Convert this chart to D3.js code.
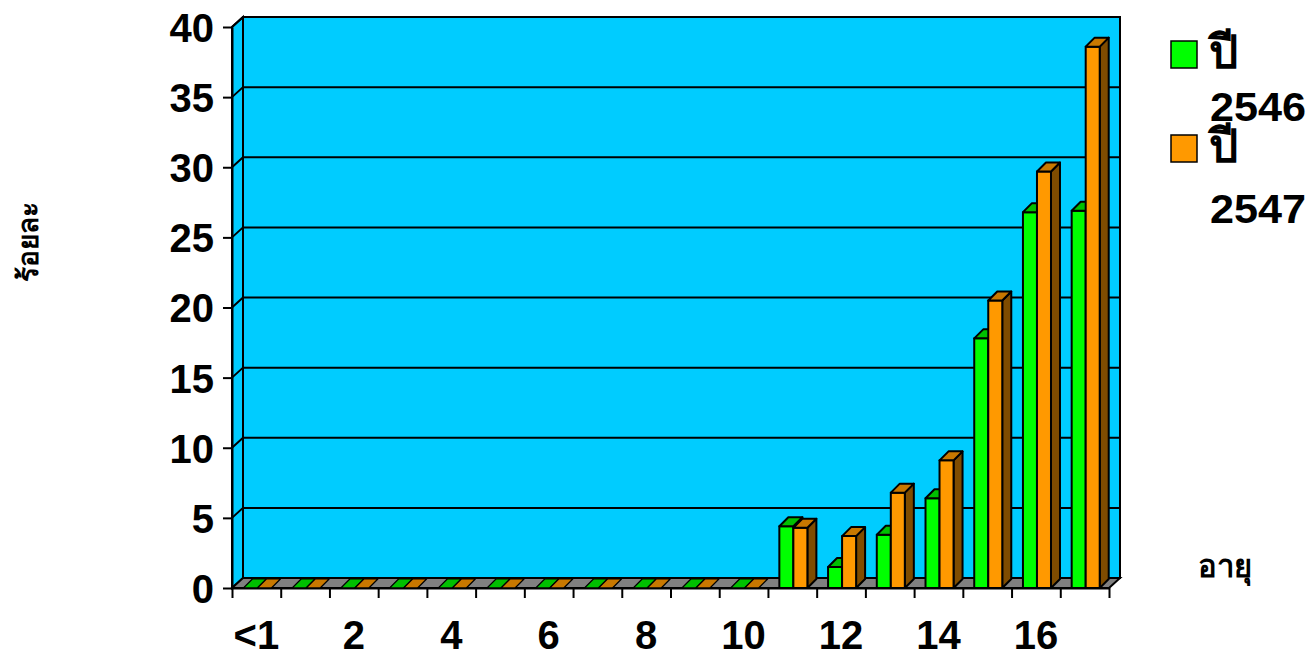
<!DOCTYPE html>
<html>
<head>
<meta charset="utf-8">
<script src="https://cdn.jsdelivr.net/npm/d3@7/dist/d3.min.js"></script>
<style>
  html, body { margin: 0; padding: 0; background: #ffffff; }
  svg { display: block; }
  text { font-family: "Liberation Sans", Arial, "Noto Sans", sans-serif; font-weight: bold; fill: #000; }
</style>
</head>
<body>
<svg id="chart" width="1312" height="655"></svg>
<script>
// Age groups (years) and percentages for each year
const categories = ["<1", "1", "2", "3", "4", "5", "6", "7", "8", "9", "10", "11", "12", "13", "14", "15", "16", "17"];
const values2546 = [0, 0, 0, 0, 0, 0, 0, 0, 0, 0, 0, 4.4, 1.5, 3.8, 6.4, 17.8, 26.8, 26.9];
const values2547 = [0, 0, 0, 0, 0, 0, 0, 0, 0, 0, 0, 4.3, 3.7, 6.8, 9.1, 20.5, 29.7, 38.6];
const seriesNames = ["ปี 2546", "ปี 2547"];
const yTicks = [0, 5, 10, 15, 20, 25, 30, 35, 40];

const svg = d3.select("#chart");

// Plot frame: front edge of the floor and the depth of the 3-D box
const plotLeft = 232, plotRight = 1109, plotBottom = 588, plotTop = 27;
const depthX = 11, depthY = -10;   // wall depth
const barDX = 9, barDY = -9;       // bar depth

const x = d3.scaleBand().domain(categories).range([plotLeft, plotRight]).padding(0);
const xIdx = d3.scaleLinear().domain([0, categories.length]).range([plotLeft, plotRight]);
const y = d3.scaleLinear().domain([0, 40]).range([plotBottom, plotTop]);

const bw = x.bandwidth();
const barOffset = bw * 0.234;
const barW = bw * 0.2877;

const faces = [
  { front: "#00ff00", top: "#00c000", side: "#008000" },
  { front: "#ff9900", top: "#c87800", side: "#7f4c00" }
];

const line = d3.line();

// Back wall
svg.append("rect")
  .attr("x", plotLeft + depthX).attr("y", y(40) + depthY)
  .attr("width", plotRight - plotLeft).attr("height", plotBottom - y(40))
  .attr("fill", "#00ccff").attr("stroke", "#000").attr("stroke-width", 2);

// Left side wall
svg.append("path")
  .attr("d", line([[plotLeft, y(40)], [plotLeft + depthX, y(40) + depthY], [plotLeft + depthX, plotBottom + depthY], [plotLeft, plotBottom]]) + "Z")
  .attr("fill", "#00ccff").attr("stroke", "#000").attr("stroke-width", 2);

// Gridlines on both walls
const grid = svg.append("g");
yTicks.filter(v => v > 0).forEach(v => {
  grid.append("path")
    .attr("d", line([[plotLeft, y(v)], [plotLeft + depthX, y(v) + depthY], [plotRight + depthX, y(v) + depthY]]))
    .attr("fill", "none").attr("stroke", "#000").attr("stroke-width", 2);
});

// Floor
svg.append("path")
  .attr("d", line([[plotLeft, plotBottom], [plotRight, plotBottom], [plotRight + depthX, plotBottom + depthY], [plotLeft + depthX, plotBottom + depthY]]) + "Z")
  .attr("fill", "#808080").attr("stroke", "#000").attr("stroke-width", 2);

// 3-D bars
const series = [values2546, values2547];
const bars = svg.append("g");
categories.forEach((c, i) => {
  series.forEach((vals, s) => {
    const x0 = x(c) + barOffset + s * barW;
    const x1 = x0 + barW;
    const yt = y(vals[i]);
    const g = bars.append("g").attr("stroke", "#000").attr("stroke-width", 2).attr("stroke-linejoin", "round");
    if (vals[i] > 0) {
      g.append("path")
        .attr("d", line([[x1, plotBottom], [x1, yt], [x1 + barDX, yt + barDY], [x1 + barDX, plotBottom + barDY]]) + "Z")
        .attr("fill", faces[s].side);
      g.append("rect")
        .attr("x", x0).attr("y", yt).attr("width", barW).attr("height", plotBottom - yt)
        .attr("fill", faces[s].front);
    }
    g.append("path")
      .attr("d", line([[x0, yt], [x1, yt], [x1 + barDX, yt + barDY], [x0 + barDX, yt + barDY]]) + "Z")
      .attr("fill", faces[s].top)
      .attr("stroke-width", vals[i] > 0 ? 2 : 1.2);
  });
});

// Y axis
const yAxis = svg.append("g")
  .attr("transform", `translate(${plotLeft},0)`)
  .call(d3.axisLeft(y).tickValues(yTicks).tickSizeInner(9).tickSizeOuter(0).tickPadding(9));
yAxis.select(".domain").attr("stroke", "#000").attr("stroke-width", 2);
yAxis.selectAll(".tick line").attr("stroke", "#000").attr("stroke-width", 2);
yAxis.selectAll(".tick text")
  .style("font-size", "40px").style("font-weight", "bold")
  .style("font-family", "'Liberation Sans', Arial, sans-serif")
  .attr("fill", "#000").attr("dy", "0.36em");

// X axis tick marks at group boundaries
const xTickAxis = svg.append("g")
  .attr("transform", `translate(0,${plotBottom})`)
  .call(d3.axisBottom(xIdx).tickValues(d3.range(0, categories.length + 1)).tickSizeInner(10).tickSizeOuter(0).tickFormat(""));
xTickAxis.select(".domain").attr("stroke", "#000").attr("stroke-width", 2);
xTickAxis.selectAll(".tick line").attr("stroke", "#000").attr("stroke-width", 2);

// X axis labels at group centres (every other group)
const xLabelAxis = svg.append("g")
  .attr("transform", `translate(0,${plotBottom})`)
  .call(d3.axisBottom(x).tickSize(0).tickPadding(33).tickFormat((d, i) => i % 2 === 0 ? d : ""));
xLabelAxis.select(".domain").remove();
xLabelAxis.selectAll(".tick text")
  .style("font-size", "40px").style("font-weight", "bold")
  .style("font-family", "'Liberation Sans', Arial, sans-serif")
  .attr("fill", "#000");

// Axis titles
svg.append("text")
  .attr("transform", "translate(38,242) rotate(-90)")
  .attr("text-anchor", "middle")
  .style("font-size", "28px")
  .text("ร้อยละ");

svg.append("text")
  .attr("x", 1225).attr("y", 577)
  .attr("text-anchor", "middle")
  .style("font-size", "31px")
  .text("อายุ");

// Legend
const legendItems = [
  { name: seriesNames[0], color: faces[0].front, boxY: 41, l1: 68, l2: 121 },
  { name: seriesNames[1], color: faces[1].front, boxY: 135, l1: 162, l2: 223 }
];
const legend = svg.append("g");
legendItems.forEach(it => {
  legend.append("rect")
    .attr("x", 1171).attr("y", it.boxY).attr("width", 26).attr("height", 27)
    .attr("fill", it.color).attr("stroke", "#000").attr("stroke-width", 1.5);
  const parts = it.name.split(" ");
  legend.append("text").attr("x", 1209).attr("y", it.l1).style("font-size", "46px").text(parts[0]);
  legend.append("text").attr("x", 1210).attr("y", it.l2).style("font-size", "40px")
    .attr("textLength", 96).attr("lengthAdjust", "spacingAndGlyphs").text(parts[1]);
});
</script>
</body>
</html>
